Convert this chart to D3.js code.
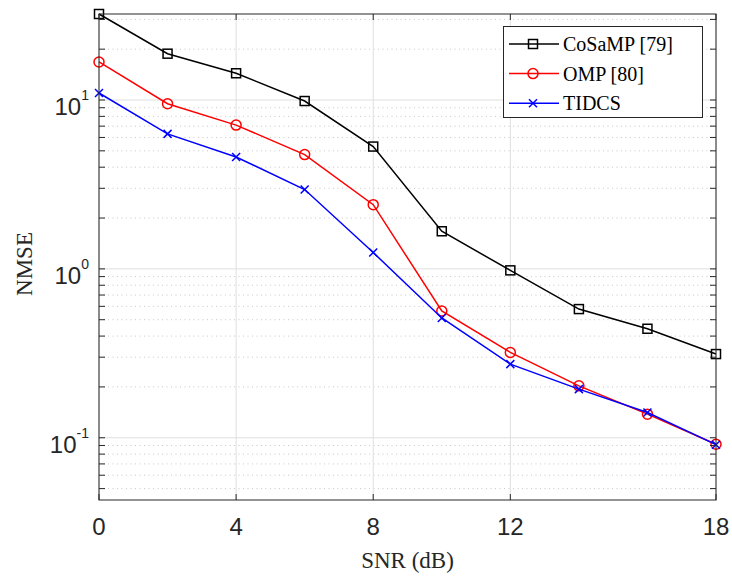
<!DOCTYPE html>
<html>
<head>
<meta charset="utf-8">
<script src="https://cdn.jsdelivr.net/npm/d3@7"></script>
<style>
    body { margin: 0; background: #fff; }
    svg { display: block; }
</style>
</head>
<body>
<div id="chart"></div>
<script>
var snr = [0, 2, 4, 6, 8, 10, 12, 14, 16, 18];
var cosamp = [32.3, 18.8, 14.4, 9.86, 5.30, 1.67, 0.98, 0.578, 0.442, 0.313];
var omp = [16.8, 9.5, 7.1, 4.75, 2.40, 0.563, 0.320, 0.203, 0.138, 0.0915];
var tidcs = [11.0, 6.3, 4.6, 2.95, 1.25, 0.512, 0.273, 0.194, 0.141, 0.0910];
var xTicks = [0, 4, 8, 12, 18];
var yMajor = [0.1, 1, 10];
var yExp = ["-1", "0", "1"];
var seriesNames = ["CoSaMP [79]", "OMP [80]", "TIDCS"];

(function () {
    var w = 732, h = 576;
    var left = 99, right = 716, top = 14, bottom = 500;
    var axisColor = "#262626",
        gridColor = "#dfdfdf",
        minorColor = "#c8c8c8",
        tickLen = 6;

    var svg = d3.select("#chart").append("svg")
        .attr("width", w)
        .attr("height", h);

    var x = d3.scaleLinear().domain([0, 18]).range([left, right]);
    var y = d3.scaleLog().domain([0.0428, 32.3]).range([bottom, top]);

    // minor log ticks 2..9 of each decade, inside the domain
    var yMinor = [];
    [0.01, 0.1, 1, 10].forEach(function (d) {
        for (var k = 2; k <= 9; k++) {
            var v = d * k;
            if (v >= y.domain()[0] && v <= y.domain()[1]) yMinor.push(v);
        }
    });

    var grid = svg.append("g");
    grid.selectAll(".minor")
        .data(yMinor)
        .enter().append("line")
        .attr("x1", left).attr("x2", right)
        .attr("y1", function (d) { return y(d); })
        .attr("y2", function (d) { return y(d); })
        .attr("stroke", minorColor)
        .attr("stroke-width", 1)
        .attr("stroke-dasharray", "1,3.5");
    grid.selectAll(".ymaj")
        .data(yMajor)
        .enter().append("line")
        .attr("x1", left).attr("x2", right)
        .attr("y1", function (d) { return y(d); })
        .attr("y2", function (d) { return y(d); })
        .attr("stroke", gridColor)
        .attr("stroke-width", 1);
    grid.selectAll(".xmaj")
        .data(xTicks)
        .enter().append("line")
        .attr("y1", top).attr("y2", bottom)
        .attr("x1", function (d) { return x(d); })
        .attr("x2", function (d) { return x(d); })
        .attr("stroke", gridColor)
        .attr("stroke-width", 1);

    // series
    var series = [
        {name: seriesNames[0], values: cosamp, color: "#000000", marker: "square"},
        {name: seriesNames[1], values: omp, color: "#ff0000", marker: "circle"},
        {name: seriesNames[2], values: tidcs, color: "#0000ff", marker: "cross"}
    ];

    var line = d3.line()
        .x(function (d) { return x(d[0]); })
        .y(function (d) { return y(d[1]); });

    function drawMarker(g, type, cx, cy, color) {
        if (type === "square") {
            g.append("rect")
                .attr("x", cx - 4.5).attr("y", cy - 4.5)
                .attr("width", 9).attr("height", 9)
                .attr("fill", "none").attr("stroke", color).attr("stroke-width", 1.5);
        } else if (type === "circle") {
            g.append("circle")
                .attr("cx", cx).attr("cy", cy).attr("r", 5)
                .attr("fill", "none").attr("stroke", color).attr("stroke-width", 1.5);
        } else {
            g.append("path")
                .attr("d", "M" + (cx - 4) + "," + (cy - 4) + "L" + (cx + 4) + "," + (cy + 4) +
                    "M" + (cx - 4) + "," + (cy + 4) + "L" + (cx + 4) + "," + (cy - 4))
                .attr("fill", "none").attr("stroke", color).attr("stroke-width", 1.5);
        }
    }

    series.forEach(function (s) {
        var pts = snr.map(function (d, i) { return [d, s.values[i]]; });
        svg.append("path")
            .datum(pts)
            .attr("d", line)
            .attr("fill", "none")
            .attr("stroke", s.color)
            .attr("stroke-width", 1.5);
        var mg = svg.append("g");
        pts.forEach(function (p) {
            drawMarker(mg, s.marker, x(p[0]), y(p[1]), s.color);
        });
    });

    // box and ticks
    var ax = svg.append("g").attr("stroke", axisColor).attr("stroke-width", 1);
    ax.append("rect")
        .attr("x", left).attr("y", top)
        .attr("width", right - left).attr("height", bottom - top)
        .attr("fill", "none");

    xTicks.forEach(function (d) {
        ax.append("line").attr("x1", x(d)).attr("x2", x(d)).attr("y1", bottom).attr("y2", bottom - tickLen);
        ax.append("line").attr("x1", x(d)).attr("x2", x(d)).attr("y1", top).attr("y2", top + tickLen);
    });
    yMajor.concat(yMinor).forEach(function (d) {
        ax.append("line").attr("x1", left).attr("x2", left + tickLen).attr("y1", y(d)).attr("y2", y(d));
        ax.append("line").attr("x1", right).attr("x2", right - tickLen).attr("y1", y(d)).attr("y2", y(d));
    });

    // tick labels
    svg.selectAll(".xlab")
        .data(xTicks)
        .enter().append("text")
        .attr("x", function (d) { return x(d); })
        .attr("y", 535)
        .attr("text-anchor", "middle")
        .style("font-family", "'Liberation Sans', Arial, sans-serif")
        .style("font-size", "24px")
        .attr("fill", axisColor)
        .text(function (d) { return d; });

    var ylab = svg.selectAll(".ylab")
        .data(yMajor)
        .enter().append("text")
        .attr("x", 89)
        .attr("y", function (d) { return y(d) + 15; })
        .attr("text-anchor", "end")
        .style("font-family", "'Liberation Sans', Arial, sans-serif")
        .style("font-size", "24px")
        .attr("fill", axisColor);
    ylab.append("tspan").text("10");
    ylab.append("tspan")
        .attr("dy", -15)
        .style("font-size", "14px")
        .text(function (d, i) { return yExp[i]; });

    // axis labels
    svg.append("text")
        .attr("x", (left + right) / 2)
        .attr("y", 568)
        .attr("text-anchor", "middle")
        .style("font-family", "'Liberation Serif', 'Times New Roman', serif")
        .style("font-size", "23px")
        .attr("fill", axisColor)
        .text("SNR (dB)");

    svg.append("text")
        .attr("transform", "translate(32," + ((top + bottom) / 2 + 7) + ") rotate(-90)")
        .attr("text-anchor", "middle")
        .style("font-family", "'Liberation Serif', 'Times New Roman', serif")
        .style("font-size", "23px")
        .attr("fill", axisColor)
        .text("NMSE");

    // legend
    var lg = svg.append("g");
    lg.append("rect")
        .attr("x", 503.5).attr("y", 26.5)
        .attr("width", 199).attr("height", 91)
        .attr("fill", "#fff")
        .attr("stroke", axisColor)
        .attr("stroke-width", 1);
    series.forEach(function (s, i) {
        var ly = 44 + i * 29.6;
        lg.append("line")
            .attr("x1", 509).attr("x2", 559)
            .attr("y1", ly).attr("y2", ly)
            .attr("stroke", s.color).attr("stroke-width", 1.5);
        drawMarker(lg, s.marker, 533, ly, s.color);
        lg.append("text")
            .attr("x", 563)
            .attr("y", ly + 7)
            .style("font-family", "'Liberation Serif', 'Times New Roman', serif")
            .style("font-size", "20px")
            .attr("fill", "#000")
            .text(s.name);
    });
})();
</script>
</body>
</html>
